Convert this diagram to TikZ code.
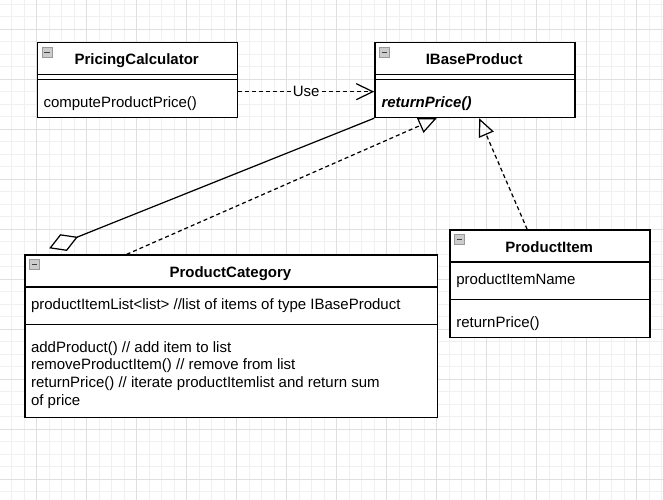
\documentclass[tikz,border=0pt]{standalone}
\usepackage{fontspec}
\setmainfont{Liberation Sans}
\usepackage{tikz}
\usetikzlibrary{arrows.meta,backgrounds}

\newcommand{\umlfont}{\fontsize{8.54}{10.07}\selectfont}

\tikzset{
  classbox/.style={draw=black, fill=white, line width=0.8pt, anchor=north west, inner sep=0pt, minimum width=4cm},
  classtitle/.style={font=\umlfont\bfseries, inner sep=0pt, text height=0.9em, text depth=0.13em},
  member/.style={anchor=west, inner sep=0pt, text height=0.9em, text depth=0.13em},
  divider/.style={line width=0.8pt},
  fold/.style={draw=gray!80, fill=gray!40, minimum size=0.2cm, inner sep=0pt, line width=0.4pt,
    path picture={\draw[black!75, line width=0.7pt] ([xshift=0.045cm]path picture bounding box.west) -- ([xshift=-0.045cm]path picture bounding box.east);}},
  gridmajor/.style={draw=gray!25, line width=0.5pt, step=1cm},
  dep/.style={line width=0.7pt, dash pattern=on 0.08cm off 0.06cm},
  uses/.style={dep, -{Straight Barb[length=0.33cm, width=0.32cm]}},
  realizes/.style={dep, -{Triangle[open, length=0.36cm, width=0.32cm]}},
  aggregates/.style={line width=0.7pt, -{Diamond[open, length=0.62cm, width=0.36cm]}},
}

\begin{document}
\begin{tikzpicture}[show background grid, inner frame sep=0pt,
  background grid/.style={draw=gray!12, line width=0.5pt, step=0.25cm},
  font=\umlfont]
\useasboundingbox (-0.7333,0.5867) rectangle (12.5267,-9.4133);
\draw[gridmajor] (-0.7333,0.5867) grid (12.5267,-9.4133);

% PricingCalculator
\node[classbox, minimum height=1.5cm] (pc) at (0,-0.25) {};
\node[fold] at ([shift={(0.21,-0.21)}]pc.north west) {};
\node[classtitle] (pctitle) at (2,-0.575) {PricingCalculator};
\draw[divider] (0,-0.9) -- (4,-0.9);
\draw[divider] (0,-1.0) -- (4,-1.0);
\node[member] (pcop) at (0.13,-1.425) {computeProductPrice()};

% IBaseProduct
\node[classbox, minimum height=1.5cm] (ib) at (6.75,-0.25) {};
\node[fold] at ([shift={(0.21,-0.21)}]ib.north west) {};
\node[classtitle] (ibtitle) at (8.75,-0.575) {IBaseProduct};
\draw[divider] (6.75,-0.9) -- (10.75,-0.9);
\draw[divider] (6.75,-1.0) -- (10.75,-1.0);
\node[member, font=\umlfont\bfseries\itshape] (ibop) at (6.89,-1.425) {returnPrice()};

% ProductCategory
\node[classbox, minimum width=8.25cm, minimum height=3.25cm] (pcat) at (-0.25,-4.5) {};
\node[fold] at ([shift={(0.21,-0.21)}]pcat.north west) {};
\node[classtitle] (pcattitle) at (3.875,-4.825) {ProductCategory};
\draw[divider] (-0.25,-5.15) -- (8,-5.15);
\draw[divider] (-0.25,-5.9) -- (8,-5.9);
\node[member] (pcatattr) at (-0.12,-5.475) {productItemList<list> //list of items of type IBaseProduct};
\node[anchor=north west, inner sep=0pt, align=left] (pcatops) at (-0.12,-6.232) {addProduct() // add item to list\\
removeProductItem() // remove from list\\
returnPrice() // iterate productItemlist and return sum\\
of price};

% ProductItem
\node[classbox, minimum height=2.15cm] (pi) at (8.25,-4.0) {};
\node[fold] at ([shift={(0.21,-0.21)}]pi.north west) {};
\node[classtitle] (pititle) at (10.25,-4.325) {ProductItem};
\draw[divider] (8.25,-4.65) -- (12.25,-4.65);
\draw[divider] (8.25,-5.4) -- (12.25,-5.4);
\node[member] (piattr) at (8.386,-4.975) {productItemName};
\node[member] (piop) at (8.386,-5.825) {returnPrice()};

% relations
\draw[uses] ([yshift=-0.233cm]pc.east) -- node[fill=white, inner sep=1pt] {Use} ([yshift=-0.233cm]ib.west);
\coordinate (agg) at ([shift={(0.5,0.12)}]pcat.north west);
\draw[aggregates] (ib.south west) -- (agg);
\draw[realizes] ([xshift=2.05cm]pcat.north west) -- ([xshift=1.25cm]ib.south west);
\draw[realizes] ([xshift=1.56cm]pi.north west) -- ([xshift=2.1cm]ib.south west);
\end{tikzpicture}
\end{document}
